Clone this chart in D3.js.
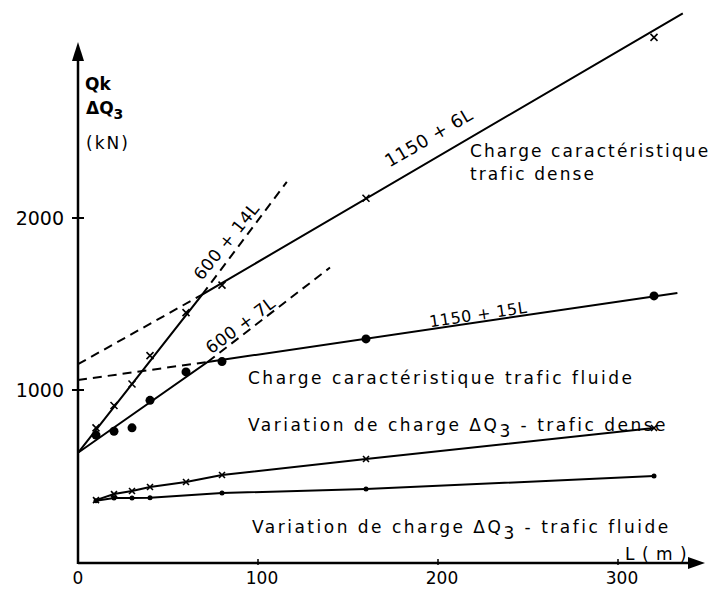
<!DOCTYPE html>
<html lang="fr">
<head>
  <meta charset="UTF-8">
  <title>Charge caractéristique Qk et variation de charge</title>
  <script src="https://cdn.jsdelivr.net/npm/d3@7"></script>
  <style type="text/css">
    body {
      margin: 0;
      background: white;
    }
    text {
      font-family: "DejaVu Sans", sans-serif;
      fill: black;
    }
    .lbl {
      font-size: 17px;
      letter-spacing: 2.5px;
    }
    .tick-lbl {
      font-size: 17px;
    }
  </style>
</head>
<body>
<div class="main"></div>
<script>
  // L (m) -> load (kN)

  // characteristic load, dense traffic (crosses)
  var denseCharPts = [[10, 780], [20, 910], [30, 1035], [40, 1200], [60, 1450], [80, 1610], [160, 2115], [320, 3050]];
  var denseCharLine = [[0, 635], [69, 1555], [336, 3190]];
  var denseCharBack = [[0, 1150], [69, 1555]];     // 1150 + 6L continued back to L = 0
  var denseCharSteep = [[69, 1555], [116, 2210]];  // 600 + 14L continued

  // characteristic load, fluid traffic (dots)
  var fluidCharPts = [[10, 738], [20, 760], [30, 780], [40, 940], [60, 1105], [80, 1165], [160, 1297], [320, 1547]];
  var fluidCharLine = [[0, 635], [72, 1163], [333, 1564]];
  var fluidCharBack = [[0, 1058], [72, 1163]];     // 1150 + 15L continued back
  var fluidCharSteep = [[72, 1163], [140, 1712]];  // 600 + 7L continued

  // load variation dQ3
  var denseDeltaPts = [[10, 360], [20, 395], [30, 413], [40, 436], [60, 465], [80, 506], [160, 599], [320, 779]];
  var fluidDeltaPts = [[10, 356], [20, 372], [30, 372], [40, 374], [80, 401], [160, 424], [320, 500]];

  var xTicks = [0, 100, 200, 300];
  var yTicks = [1000, 2000];

  var width = 714, height = 589;

  var x = d3.scaleLinear().domain([0, 348]).range([78, 704.4]);
  var y = d3.scaleLinear().domain([0, 3200]).range([562, 11.6]);

  var svg = d3.select(".main").append("svg")
      .attr("width", width)
      .attr("height", height);

  var line = d3.line()
      .x(function(d) { return x(d[0]); })
      .y(function(d) { return y(d[1]); });

  // axes with arrow heads
  var x0 = x(0), y0 = y(0);
  svg.append("line")
      .attr("x1", x0).attr("y1", y0 + 1)
      .attr("x2", 692).attr("y2", y0 + 1)
      .attr("stroke", "black").attr("stroke-width", 2.5);
  svg.append("path")
      .attr("d", "M705," + (y0 + 1) + " L688," + (y0 - 5) + " L688," + (y0 + 7) + " Z")
      .attr("fill", "black");
  svg.append("line")
      .attr("x1", x0).attr("y1", y0 + 2)
      .attr("x2", x0).attr("y2", 55)
      .attr("stroke", "black").attr("stroke-width", 2.5);
  svg.append("path")
      .attr("d", "M" + x0 + ",42 L" + (x0 - 6) + ",61 L" + (x0 + 6) + ",61 Z")
      .attr("fill", "black");

  // ticks
  yTicks.forEach(function(v) {
    svg.append("line")
        .attr("x1", x0 - 6).attr("x2", x0 + 6)
        .attr("y1", y(v)).attr("y2", y(v))
        .attr("stroke", "black").attr("stroke-width", 2);
    svg.append("text")
        .attr("x", 64).attr("y", y(v) + 7)
        .style("font-size", "19px")
        .style("text-anchor", "end")
        .text(v);
  });
  xTicks.forEach(function(v) {
    if (v > 0) {
      svg.append("line")
          .attr("x1", x(v)).attr("x2", x(v))
          .attr("y1", y0 - 3).attr("y2", y0 + 3)
          .attr("stroke", "black").attr("stroke-width", 1.5);
    }
    svg.append("text")
        .attr("class", "tick-lbl")
        .attr("x", x(v) + (v > 0 ? 4 : 0)).attr("y", 584)
        .style("text-anchor", "middle")
        .text(v);
  });

  // solid lines
  [denseCharLine, fluidCharLine, denseDeltaPts, fluidDeltaPts].forEach(function(d) {
    svg.append("path")
        .datum(d)
        .attr("d", line)
        .attr("fill", "none")
        .attr("stroke", "black")
        .attr("stroke-width", 2);
  });

  // dashed construction lines
  [denseCharBack, denseCharSteep, fluidCharBack, fluidCharSteep].forEach(function(d) {
    svg.append("path")
        .datum(d)
        .attr("d", line)
        .attr("fill", "none")
        .attr("stroke", "black")
        .attr("stroke-width", 2)
        .attr("stroke-dasharray", "9,6");
  });

  // markers
  function crosses(data, s) {
    svg.append("g").selectAll("path")
        .data(data)
      .enter().append("path")
        .attr("d", function(d) {
          var cx = x(d[0]), cy = y(d[1]);
          return "M" + (cx - s) + "," + (cy - s) + "L" + (cx + s) + "," + (cy + s) +
                 "M" + (cx - s) + "," + (cy + s) + "L" + (cx + s) + "," + (cy - s);
        })
        .attr("stroke", "black")
        .attr("stroke-width", 1.6);
  }
  function dots(data, r) {
    svg.append("g").selectAll("circle")
        .data(data)
      .enter().append("circle")
        .attr("cx", function(d) { return x(d[0]); })
        .attr("cy", function(d) { return y(d[1]); })
        .attr("r", r)
        .attr("fill", "black");
  }
  crosses(denseCharPts, 3.5);
  dots(fluidCharPts, 4.5);
  crosses(denseDeltaPts, 3);
  dots(fluidDeltaPts, 2.5);

  // rotated formula labels
  function slanted(txt, cx, cy, angle, size) {
    svg.append("text")
        .attr("transform", "translate(" + cx + "," + cy + ") rotate(" + angle + ")")
        .style("text-anchor", "middle")
        .style("font-size", size + "px")
        .style("letter-spacing", "0.5px")
        .text(txt);
  }
  slanted("1150 + 6L", 432, 143, -30.4, 18);
  slanted("600 + 14L", 231, 245, -51, 17);
  slanted("600 + 7L", 244, 330, -37, 17);
  slanted("1150 + 15L", 479, 320, -8.6, 16);

  // curve names
  function label(parts, lx, ly, sp) {
    var t = svg.append("text").attr("class", "lbl").attr("x", lx).attr("y", ly);
    if (sp) t.style("letter-spacing", sp + "px");
    parts.forEach(function(p) {
      var s = t.append("tspan").text(p.t);
      if (p.dy) s.attr("dy", p.dy);
    });
  }
  label([{t: "Charge caractéristique"}], 470, 157, 2.1);
  label([{t: "trafic dense"}], 470, 180, 2.1);
  label([{t: "Charge caractéristique trafic fluide"}], 248, 384);
  label([{t: "Variation de charge ΔQ"}, {t: "3", dy: 6}, {t: " - trafic dense", dy: -6}], 248, 431);
  label([{t: "Variation de charge ΔQ"}, {t: "3", dy: 6}, {t: " - trafic fluide", dy: -6}], 252, 533);
  svg.append("text").attr("x", 625).attr("y", 560)
      .style("font-size", "17px").style("letter-spacing", "1px").text("L ( m )");

  // y axis title
  svg.append("text").attr("x", 85).attr("y", 90)
      .style("font-size", "17px").style("font-weight", "bold").text("Qk");
  var dq = svg.append("text").attr("x", 86).attr("y", 114)
      .style("font-size", "17px").style("font-weight", "bold");
  dq.append("tspan").text("ΔQ");
  dq.append("tspan").attr("dy", 5).style("font-size", "14px").text("3");
  svg.append("text").attr("x", 86).attr("y", 149)
      .style("font-size", "17px").style("letter-spacing", "2px").text("(kN)");
</script>
</body>
</html>
